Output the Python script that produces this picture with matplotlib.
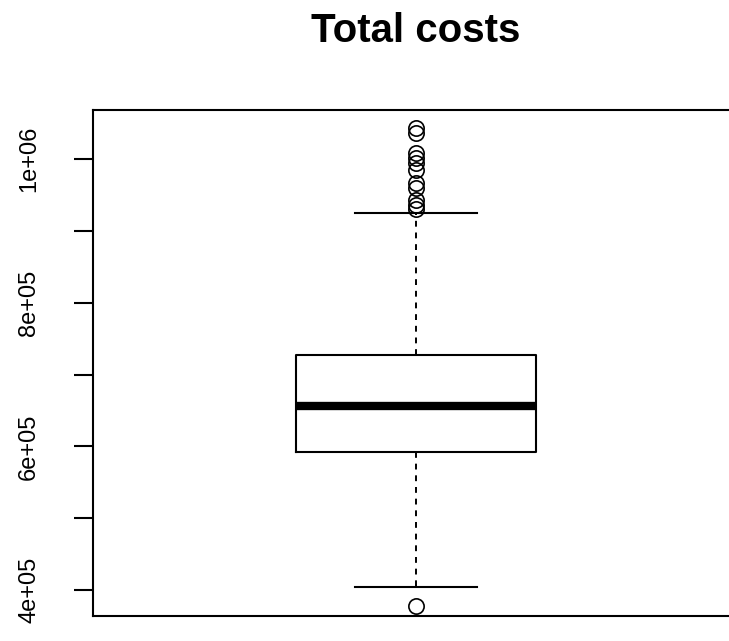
import matplotlib
matplotlib.use("Agg")
import matplotlib.pyplot as plt

plt.rcParams['font.family'] = ['Liberation Sans', 'DejaVu Sans']

# summary statistics of total costs
q1 = 592000
median = 656000
q3 = 727000
whisker_low = 404000
whisker_high = 925000
outliers = [1043500, 1036500, 1008600, 1001700, 994700, 985000,
            967000, 960000, 943000, 936000, 931000, 378000]

tick_values = [400000, 500000, 600000, 700000, 800000, 900000, 1000000]
tick_labels = ['4e+05', '', '6e+05', '', '8e+05', '', '1e+06']

fig = plt.figure(figsize=(7.29, 6.41), dpi=100)
ax = fig.add_axes([0.1276, 0.039, 0.886, 0.789])

stats = [{
    'med': median, 'q1': q1, 'q3': q3,
    'whislo': whisker_low, 'whishi': whisker_high,
    'fliers': outliers,
}]

ax.bxp(stats, positions=[1], widths=0.373, capwidths=0.19,
       boxprops=dict(color='black', linewidth=1.5),
       medianprops=dict(color='black', linewidth=6, solid_capstyle='butt'),
       whiskerprops=dict(color='black', linewidth=1.4, linestyle=(0, (3, 3))),
       capprops=dict(color='black', linewidth=1.5),
       flierprops=dict(marker='o', markerfacecolor='none',
                       markeredgecolor='black', markersize=11,
                       markeredgewidth=1.2))

ax.set_xlim(0.5, 1.5)
ax.set_ylim(364000, 1068000)
ax.set_xticks([])
ax.set_yticks(tick_values)
ax.set_yticklabels(tick_labels, rotation=90, va='center', fontsize=17)
ax.tick_params(axis='y', length=14, width=1.5, pad=24)
for spine in ax.spines.values():
    spine.set_linewidth(1.5)

ax.set_title('Total costs', fontsize=29, fontweight='bold', pad=49)

fig.savefig('out.png', dpi=100)
